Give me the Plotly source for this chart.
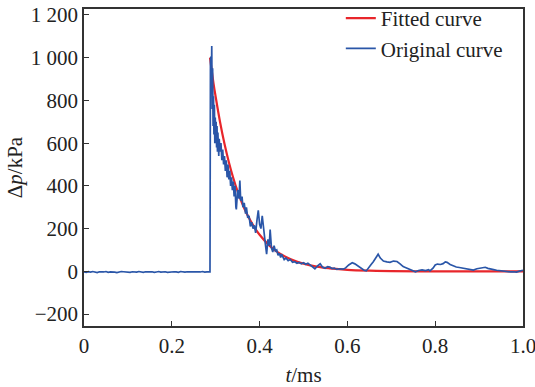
import plotly.graph_objects as go
import numpy as np

# ---- data ----
t_base = [round(0.005 * i, 3) for i in range(58)]
p_base = [-3, -5, -2, -4, -1, -3, -6, -2, -4, -3, -1, -5, -3, -2, -4, -6, -3, -1, -2, -4,
          -3, -5, -2, -3, -4, -1, -3, -5, -2, -4, -3, -2, -5, -3, -1, -4, -3, -2, -5, -3,
          -4, -2, -3, -5, -1, -3, -4, -2, -3, -5, -3, -2, -4, -3, -1, -4, -3, -2]

t_peak = [0.2870, 0.2880, 0.2890, 0.2900, 0.2910, 0.2920, 0.2930, 0.2940, 0.2950, 0.2960,
          0.2970, 0.2980, 0.2990, 0.3000, 0.3010, 0.3020, 0.3030, 0.3040, 0.3050, 0.3060,
          0.3070, 0.3080, 0.3100, 0.3120, 0.3140, 0.3160, 0.3180, 0.3200, 0.3220, 0.3240,
          0.3260, 0.3280, 0.3300, 0.3320, 0.3340, 0.3360, 0.3380, 0.3400, 0.3420, 0.3440,
          0.3460, 0.3470, 0.3500, 0.3530, 0.3550, 0.3570, 0.3600, 0.3620, 0.3650, 0.3680,
          0.3700, 0.3730, 0.3760, 0.3790, 0.3820, 0.3850, 0.3880, 0.3910, 0.3940, 0.3970,
          0.4000, 0.4030, 0.4060, 0.4080, 0.4100, 0.4130, 0.4160, 0.4190, 0.4220, 0.4240,
          0.4270, 0.4300, 0.4330, 0.4360, 0.4390, 0.4420, 0.4450, 0.4480]
p_peak = [-3, 980, 1005, 870, 1055, 760, 950, 680, 820, 640,
          780, 600, 720, 620, 700, 580, 680, 560, 650, 590,
          540, 620, 560, 600, 520, 570, 500, 540, 470, 520,
          440, 500, 430, 470, 400, 440, 380, 420, 350, 400,
          300, 290, 380, 340, 425, 330, 350, 300, 320, 270,
          300, 250, 260, 210, 230, 200, 215, 180, 240, 285,
          220, 200, 260, 230, 175, 130, 80, 150, 120, 195,
          110, 90, 120, 95, 100, 75, 85, 65]

t_tail = [0.4500, 0.4530, 0.4560, 0.4600, 0.4650, 0.4700, 0.4750, 0.4800, 0.4850, 0.4900,
          0.4950, 0.5000, 0.5050, 0.5100, 0.5150, 0.5200, 0.5260, 0.5320, 0.5380, 0.5430,
          0.5490, 0.5550, 0.5600, 0.5650, 0.5700, 0.5760, 0.5820, 0.5900, 0.5960, 0.6030,
          0.6110, 0.6170, 0.6220, 0.6300, 0.6380, 0.6430, 0.6480, 0.6540, 0.6590, 0.6640,
          0.6700, 0.6750, 0.6820, 0.6900, 0.6970, 0.7050, 0.7130, 0.7200, 0.7270, 0.7320,
          0.7400, 0.7480, 0.7550, 0.7620, 0.7700, 0.7780, 0.7850, 0.7880, 0.7950, 0.8000,
          0.8050, 0.8120, 0.8180, 0.8230, 0.8270, 0.8340, 0.8410, 0.8480, 0.8550, 0.8640,
          0.8720, 0.8800, 0.8870, 0.8950, 0.9030, 0.9100, 0.9140, 0.9200, 0.9260, 0.9330,
          0.9400, 0.9500, 0.9580, 0.9660, 0.9720, 0.9780, 0.9850, 0.9920, 1.0000]
p_tail = [80, 70, 55, 62, 50, 55, 42, 45, 38, 42,
          35, 40, 33, 38, 30, 20, 12, 25, 35, 20,
          14, 22, 20, 13, 15, 9, 12, 10, 16, 30,
          40, 35, 28, 15, 5, 2, 18, 32, 45, 62,
          80, 62, 48, 44, 42, 48, 46, 35, 22, 18,
          10, 3, -2, 4, 7, 3, 8, 2, 15, 30,
          34, 32, 36, 44, 42, 32, 25, 20, 18, 14,
          10, 7, 6, 12, 16, 20, 19, 14, 10, 8,
          5, 2, 1, 0, -3, -2, -4, 1, 5]

t_fit = [0.287, 0.295, 0.300, 0.310, 0.320, 0.330, 0.340, 0.350, 0.360, 0.370, 0.380,
         0.390, 0.400, 0.420, 0.440, 0.460, 0.480, 0.500, 0.530, 0.560, 0.600, 0.650,
         0.700, 0.800, 0.900, 1.000]
p_fit = [1000, 880, 816, 698, 597, 511, 437, 374, 320, 273, 234,
         200, 171, 125, 91, 67, 49, 36, 22, 14, 7, 3,
         1, 0, 0, 0]

y_tickvals = [-200, 0, 200, 400, 600, 800, 1000, 1200]
y_ticktext = ["\u2212200", "0", "200", "400", "600", "800", "1 000", "1 200"]
x_tickvals = [0, 0.2, 0.4, 0.6, 0.8, 1.0]
x_ticktext = ["0", "0.2", "0.4", "0.6", "0.8", "1.0"]

t_orig = t_base + t_peak + t_tail
p_orig = p_base + p_peak + p_tail

FONT = "Liberation Serif"
FS = 21

fig = go.Figure()
fig.add_trace(go.Scatter(x=t_fit, y=p_fit, mode="lines", name="Fitted curve",
                         line=dict(color="#E8262B", width=2.2, shape="spline")))
fig.add_trace(go.Scatter(x=t_orig, y=p_orig, mode="lines", name="Original curve",
                         line=dict(color="#2A56A8", width=1.7)))

axis_common = dict(showline=True, mirror=True, linecolor="#333333", linewidth=1.5,
                   ticks="inside", ticklen=5, tickcolor="#333333", tickwidth=1.2,
                   showgrid=False, zeroline=False, automargin=False,
                   ticklabeloverflow="allow",
                   tickfont=dict(family=FONT, size=FS, color="#222222"))

fig.update_layout(
    width=535, height=387,
    margin=dict(l=84, r=12, t=9, b=61, autoexpand=False),
    paper_bgcolor="white", plot_bgcolor="white",
    font=dict(family=FONT, size=FS, color="#222222"),
    showlegend=True,
    legend=dict(x=0.585, y=1.035, xanchor="left", yanchor="top",
                bgcolor="rgba(0,0,0,0)", borderwidth=0,
                font=dict(family=FONT, size=FS, color="#222222"),
                tracegroupgap=0, itemwidth=30),
    xaxis=dict(range=[0, 1.0], tickvals=x_tickvals, ticktext=x_ticktext,
               title=dict(text="<i>t</i>/ms", font=dict(family=FONT, size=FS), standoff=10),
               **axis_common),
    yaxis=dict(range=[-256, 1228], tickvals=y_tickvals, ticktext=y_ticktext,
               title=dict(text="\u0394<i>p</i>/kPa", font=dict(family=FONT, size=FS), standoff=2),
               **axis_common),
)

fig.write_html("out.html")
